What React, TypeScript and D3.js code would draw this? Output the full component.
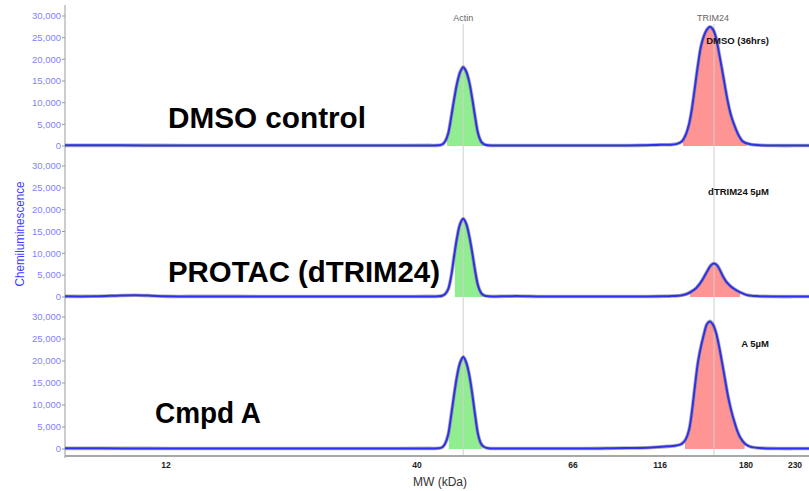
import React from "react";
import * as d3 from "d3";

// ---- data ----
const xTickValues = [12, 40, 66, 116, 180, 230];
const xDomainKnots = [2, 12, 40, 66, 116, 180, 230, 245];
const yTickValues = [0, 5000, 10000, 15000, 20000, 25000, 30000];

const panelNames = ["DMSO control", "PROTAC (dTRIM24)", "Cmpd A"];
const sampleLabels = ["DMSO (36hrs)", "dTRIM24 5µM", "A 5µM"];
const bandNames = ["Actin", "TRIM24"];
const bandMW = [47.7, 156.2];

const dmsoTrace: [number, number][] = [
  [2, 150], [6, 150], [10, 140], [14, 130], [20, 130], [26, 120], [32, 120], [38, 130], [42, 140],
  [43.5, 150], [44.2, 350], [44.7, 1100], [45.2, 2900], [45.7, 6700], [46.2, 10900], [46.7, 14600],
  [47.2, 17100], [47.7, 18200], [48.2, 17200], [48.7, 14800], [49.2, 11000], [49.7, 6600], [50.2, 2800],
  [50.7, 1000], [51.2, 400], [51.9, 150], [54, 120], [58, 110], [62, 110], [66, 110], [75, 120], [85, 120],
  [95, 130], [104.5, 150], [114.3, 250], [119.7, 300], [123.4, 300], [128.7, 500], [132.4, 1100],
  [135.3, 2700], [137.6, 5000], [139.8, 8700], [142.0, 13600], [144.3, 18800], [146.5, 23000],
  [148.7, 25400], [151.0, 26900], [153.2, 27500], [155.4, 26900], [157.7, 25000], [159.9, 21500],
  [162.1, 17800], [164.4, 13700], [166.6, 10000], [168.8, 7100], [171.8, 4400], [174.8, 2300],
  [177.8, 1000], [184.1, 400], [194.3, 180], [209.6, 100], [230, 100], [245, 100],
];

const protacTrace: [number, number][] = [
  [2, 150], [5, 160], [7.5, 350], [9, 400], [10.5, 300], [12, 150], [16, 140], [22, 130], [28, 130],
  [34, 120], [40, 130], [42, 140], [43.5, 150], [44.2, 300], [44.7, 700], [45.2, 1800], [45.7, 4800],
  [46.2, 9500], [46.7, 13800], [47.2, 16800], [47.7, 17900], [48.2, 16800], [48.7, 14000], [49.2, 10200],
  [49.7, 5900], [50.2, 2500], [50.7, 900], [51.2, 350], [51.9, 150], [54, 150], [56, 200], [58, 180],
  [60, 120], [66, 110], [75, 110], [85, 120], [95, 120], [104.5, 100], [116, 150], [122.7, 200],
  [132.4, 400], [136.8, 800], [140.6, 1500], [142.8, 2000], [145.0, 2800], [147.3, 3800], [149.5, 5000],
  [151.7, 6200], [154.0, 7300], [156.2, 7650], [158.4, 7300], [160.7, 6100], [162.9, 4700],
  [165.1, 3600], [167.4, 2800], [169.6, 2200], [172.6, 1600], [177.0, 900], [182.0, 400],
  [193.3, 180], [209.6, 100], [230, 100], [245, 100],
];

const cmpdATrace: [number, number][] = [
  [2, 150], [8, 140], [12, 130], [18, 130], [25, 120], [32, 120], [38, 130], [42, 140], [43.5, 150],
  [44.2, 400], [44.7, 1250], [45.2, 3300], [45.7, 7700], [46.2, 12500], [46.7, 16800], [47.2, 19700],
  [47.7, 20900], [48.2, 19700], [48.7, 16900], [49.2, 12600], [49.7, 7600], [50.2, 3200], [50.7, 1150],
  [51.2, 450], [51.9, 150], [54, 130], [58, 120], [66, 120], [75, 130], [85, 150], [95, 200],
  [104.5, 250], [113.1, 400], [122, 600], [127.2, 750], [130.9, 980], [133.1, 1400], [135.3, 2300],
  [137.6, 4300], [139.8, 8600], [142.0, 14300], [144.3, 19800], [146.5, 23300], [148.7, 26100],
  [151.0, 28400], [153.2, 29000], [155.4, 28300], [157.7, 26400], [159.9, 23400], [162.1, 19800],
  [164.4, 15800], [166.6, 12000], [168.8, 9000], [171.1, 6400], [173.3, 4300], [175.5, 2700],
  [179.2, 1200], [184.1, 550], [194.3, 220], [214.7, 100], [230, 100], [245, 100],
];

const traces = [dmsoTrace, protacTrace, cmpdATrace];
const actinFill: [number, number][] = [[45.0, 51.5], [46.3, 51.0], [45.3, 50.8]];
const trimFill: [number, number][] = [[133.1, 181.0], [138.3, 175.5], [134.6, 179.0]];

// ---- layout ----
const W = 809;
const H = 491;
const plotLeft = 65;
const plotRight = 809;
const xAxisY = 456;
const panelRanges: [number, number][] = [[146, 16], [297, 166], [449, 317]];
const nameBaselines = [128, 282, 423];
const nameX = [168, 168, 155];
const nameWidths = [198, 272, 106];
const sampleBaselines = [44, 195, 347];

const FONT = "Arial, 'Liberation Sans', Helvetica, sans-serif";

export default function App() {
  const x = d3.scaleLinear().domain(xDomainKnots).range([65, 166, 417, 573, 660, 746, 795, 809]);
  const fmt = d3.format(",");
  const curve = d3.curveCatmullRom.alpha(0.5);

  return (
    <svg width={W} height={H} style={{ position: "absolute", left: 0, top: 0, background: "#fff" }} fontFamily={FONT}>
      <rect x={0} y={0} width={W} height={H} fill="#fff" />
      <defs>
        {traces.map((_, i) => (
          <React.Fragment key={i}>
            <clipPath id={`actin-${i}`}>
              <rect x={x(actinFill[i][0])} y={0} width={x(actinFill[i][1]) - x(actinFill[i][0])} height={H} />
            </clipPath>
            <clipPath id={`trim-${i}`}>
              <rect x={x(trimFill[i][0])} y={0} width={x(trimFill[i][1]) - x(trimFill[i][0])} height={H} />
            </clipPath>
          </React.Fragment>
        ))}
      </defs>

      {/* y axis line */}
      <line x1={plotLeft} x2={plotLeft} y1={5} y2={458} stroke="#9a9a9a" strokeWidth={1} />

      {traces.map((data, i) => {
        const y = d3.scaleLinear().domain([0, 30000]).range(panelRanges[i]);
        const area = d3
          .area<[number, number]>()
          .x((d) => x(d[0]))
          .y0(y(0))
          .y1((d) => y(d[1]))
          .curve(curve);
        return (
          <g key={i}>
            {yTickValues.map((t) => (
              <g key={t}>
                <line x1={plotLeft - 3} x2={plotLeft} y1={y(t)} y2={y(t)} stroke="#9a9a9a" />
                <text x={plotLeft - 4} y={y(t)} dy="0.35em" textAnchor="end" fontSize={9.5} fill="#7f7fff">
                  {fmt(t)}
                </text>
              </g>
            ))}
            <path d={area(data) || ""} fill="#90ee90" clipPath={`url(#actin-${i})`} />
            <path d={area(data) || ""} fill="#ff9494" clipPath={`url(#trim-${i})`} />
          </g>
        );
      })}

      {/* band reference lines */}
      {bandMW.map((m, i) => (
        <line key={i} x1={x(m)} x2={x(m)} y1={24} y2={xAxisY} stroke="#cfcfcf" strokeWidth={1} />
      ))}
      {bandNames.map((n, i) => (
        <text key={n} x={x(bandMW[i]) - (i === 1 ? 1 : 0)} y={21} textAnchor="middle" fontSize={9} fill="#666">
          {n}
        </text>
      ))}

      {traces.map((data, i) => {
        const y = d3.scaleLinear().domain([0, 30000]).range(panelRanges[i]);
        const line = d3.line<[number, number]>().x((d) => x(d[0])).y((d) => y(d[1])).curve(curve);
        return (
          <g key={`t${i}`}>
            <path d={line(data) || ""} fill="none" stroke="#8a8a8a" strokeOpacity={0.7} strokeWidth={3.6} />
            <path d={line(data) || ""} fill="none" stroke="#2f2fee" strokeWidth={2} strokeLinejoin="round" />
            <text x={769} y={sampleBaselines[i]} textAnchor="end" fontSize={9.5} fontWeight="bold" fill="#111">
              {sampleLabels[i]}
            </text>
            <text
              x={nameX[i]}
              y={nameBaselines[i]}
              fontSize={29}
              fontWeight="bold"
              fill="#000"
              textLength={nameWidths[i]}
              lengthAdjust="spacingAndGlyphs"
            >
              {panelNames[i]}
            </text>
          </g>
        );
      })}

      {/* x axis */}
      <line x1={plotLeft} x2={plotRight} y1={xAxisY} y2={xAxisY} stroke="#a8a8a8" strokeWidth={2} />
      {xTickValues.map((t) => (
        <text key={t} x={x(t)} y={468} textAnchor="middle" fontSize={8.5} fontWeight="bold" fill="#222">
          {t}
        </text>
      ))}
      <text x={440} y={486} textAnchor="middle" fontSize={12} fill="#333">
        MW (kDa)
      </text>

      {/* y axis title */}
      <text
        transform={`translate(24,234) rotate(-90)`}
        textAnchor="middle"
        fontSize={12}
        fill="#3d3dff"
        textLength={105}
        lengthAdjust="spacingAndGlyphs"
      >
        Chemiluminescence
      </text>
    </svg>
  );
}
